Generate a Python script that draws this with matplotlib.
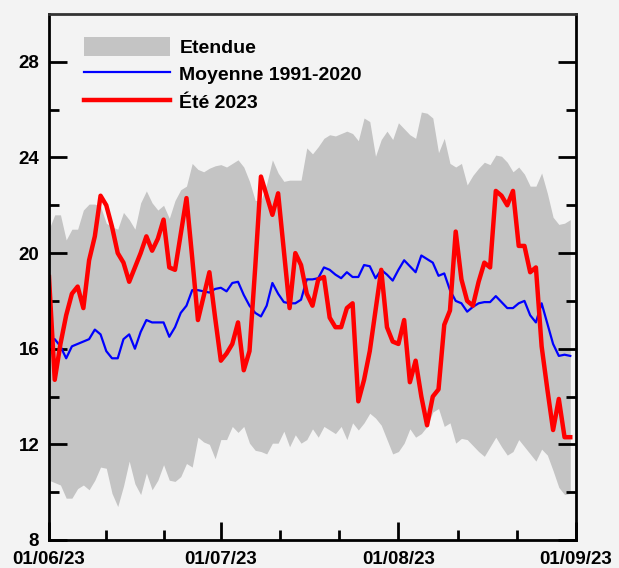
import matplotlib.pyplot as plt
import matplotlib.dates as mdates
import numpy as np
import pandas as pd

# jours du 1er juin au 31 août 2023
jours = pd.date_range("2023-06-01", "2023-08-31", freq="D")

# étendue (min / max) des températures moyennes journalières 1991-2020
etendue_max = [21.0, 21.6, 21.6, 20.55, 21.0, 21.0, 21.8, 22.05, 22.05, 21.95,
               21.25, 21.1, 21.0, 21.7, 21.4, 21.0, 22.1, 22.6, 22.1, 21.8,
               22.0, 21.45, 22.2, 22.65, 22.8, 23.75, 23.5, 23.4, 23.55, 23.65,
               23.7, 23.6, 23.75, 23.9, 23.6, 23.0, 22.2, 22.2, 22.9, 23.9,
               23.35, 23.0, 23.05, 23.05, 23.05, 24.4, 24.15, 24.45, 24.8, 24.95,
               24.9, 25.0, 25.1, 25.0, 24.7, 25.65, 25.5, 24.05, 24.75, 25.1,
               24.75, 25.45, 25.2, 24.95, 24.8, 25.9, 25.85, 25.65, 24.2, 24.8,
               23.75, 23.6, 23.75, 22.85, 23.25, 23.55, 23.8, 23.7, 24.1, 24.05,
               23.8, 23.4, 23.6, 23.3, 22.8, 22.8, 23.35, 22.5, 21.5, 21.2,
               21.25, 21.4]
etendue_min = [10.5, 10.4, 10.3, 9.75, 9.75, 10.15, 10.3, 10.1, 10.5, 11.05,
               11.0, 9.95, 9.4, 10.25, 11.3, 10.35, 9.9, 10.8, 10.1, 10.5,
               11.15, 10.5, 10.45, 10.65, 11.2, 11.05, 12.3, 12.1, 12.0, 11.4,
               12.2, 12.2, 12.75, 12.5, 12.75, 12.05, 11.75, 11.7, 11.6, 12.05,
               12.05, 12.55, 11.9, 12.4, 12.05, 12.2, 12.65, 12.3, 12.75, 12.6,
               12.45, 12.75, 12.2, 12.9, 12.6, 12.9, 13.3, 13.1, 12.8, 12.2,
               11.6, 11.7, 12.05, 12.65, 12.3, 12.45, 12.75, 13.35, 13.5, 12.75,
               12.9, 12.05, 12.25, 12.2, 11.95, 11.7, 11.5, 11.9, 12.3, 11.9,
               11.55, 11.7, 12.2, 11.9, 11.6, 11.3, 11.8, 11.55, 10.9, 10.2,
               9.9, 9.95]

# moyenne 1991-2020
moyenne = [16.4, 16.4, 16.1, 15.6, 16.1, 16.2, 16.3, 16.4, 16.8, 16.6,
           15.9, 15.6, 15.6, 16.4, 16.6, 16.0, 16.7, 17.2, 17.1, 17.1,
           17.1, 16.5, 16.9, 17.5, 17.8, 18.45, 18.45, 18.4, 18.35, 18.5,
           18.55, 18.4, 18.75, 18.8, 18.25, 17.8, 17.5, 17.35, 17.8, 18.75,
           18.3, 17.95, 17.9, 17.9, 18.05, 18.9, 18.9, 18.95, 19.4, 19.3,
           19.1, 18.95, 19.2, 19.0, 19.0, 19.5, 19.45, 18.95, 19.3, 19.1,
           18.85, 19.3, 19.7, 19.45, 19.2, 19.9, 19.75, 19.6, 19.05, 19.15,
           18.45, 18.0, 17.9, 17.55, 17.75, 17.9, 17.95, 17.95, 18.2, 17.95,
           17.7, 17.7, 17.9, 18.0, 17.4, 17.1, 17.9, 17.05, 16.2, 15.7,
           15.75, 15.7]

# été 2023
ete_2023 = [19.0, 14.7, 16.2, 17.4, 18.3, 18.6, 17.7, 19.7, 20.7, 22.4,
            22.0, 21.1, 20.0, 19.6, 18.8, 19.4, 20.0, 20.7, 20.1, 20.6,
            21.4, 19.4, 19.3, 20.8, 22.3, 19.8, 17.2, 18.2, 19.2, 17.3,
            15.5, 15.8, 16.2, 17.1, 15.1, 15.9, 19.4, 23.2, 22.4, 21.6,
            22.5, 20.1, 17.7, 20.0, 19.5, 18.3, 17.8, 18.9, 19.0, 17.3,
            16.9, 16.9, 17.7, 17.9, 13.8, 14.7, 15.9, 17.6, 19.3, 16.9,
            16.3, 16.2, 17.2, 14.6, 15.5, 14.0, 12.8, 14.0, 14.3, 17.0,
            17.6, 20.9, 18.9, 18.0, 17.8, 18.8, 19.6, 19.4, 22.6, 22.4,
            22.0, 22.6, 20.3, 20.3, 19.2, 19.4, 16.1, 14.3, 12.6, 13.9,
            12.3, 12.3]

fond = "#f3f3f3"
plt.rcParams["font.family"] = ["Liberation Sans", "DejaVu Sans"]
plt.rcParams["font.weight"] = "bold"

fig = plt.figure(figsize=(6.19, 5.68), dpi=100, facecolor=fond)
ax = fig.add_axes([49 / 619, 28 / 568, 527 / 619, 526 / 568], facecolor=fond)

ax.fill_between(jours, etendue_min, etendue_max, color="#c4c4c4", lw=0,
                label="Etendue")
ax.plot(jours, moyenne, color="#0000ff", lw=1.6, label="Moyenne 1991-2020")
ax.plot(jours, ete_2023, color="#ff0000", lw=3.2, label="Été 2023")

ax.set_ylim(8, 30)
ax.set_xlim(pd.Timestamp("2023-06-01"), pd.Timestamp("2023-09-01"))
ax.set_yticks([8, 12, 16, 20, 24, 28])
ax.set_yticks(np.arange(10, 30, 4), minor=True)

# graduations majeures au début de chaque mois, mineures au tiers du mois
debuts = pd.date_range("2023-06-01", "2023-09-01", freq="MS")
ax.set_xticks(debuts)
ax.xaxis.set_major_formatter(mdates.DateFormatter("%d/%m/%y"))
mineures = []
for d0, d1 in zip(debuts[:-1], debuts[1:]):
    for f in (1 / 3, 2 / 3):
        mineures.append(d0 + (d1 - d0) * f)
ax.set_xticks(mineures, minor=True)

ax.tick_params(which="both", direction="in", width=2, color="black",
               labelsize=13.5, top=False, right=True)
ax.tick_params(which="major", length=13)
ax.tick_params(which="minor", length=7)
ax.tick_params(axis="y", pad=7)
ax.tick_params(axis="x", pad=8)
for lab in ax.get_xticklabels() + ax.get_yticklabels():
    lab.set_fontweight("bold")

for sp in ax.spines.values():
    sp.set_linewidth(2)
    sp.set_color("black")
ax.spines["top"].set_color("#333333")

leg = ax.legend(loc="upper left", bbox_to_anchor=(35 / 527, 1 - 23 / 526),
                frameon=False, borderpad=0, borderaxespad=0,
                handlelength=4.4, handleheight=1.1, handletextpad=0.5,
                labelspacing=0.38, prop={"size": 14, "weight": "bold"})

fig.savefig("out.png", dpi=100, facecolor=fond)
